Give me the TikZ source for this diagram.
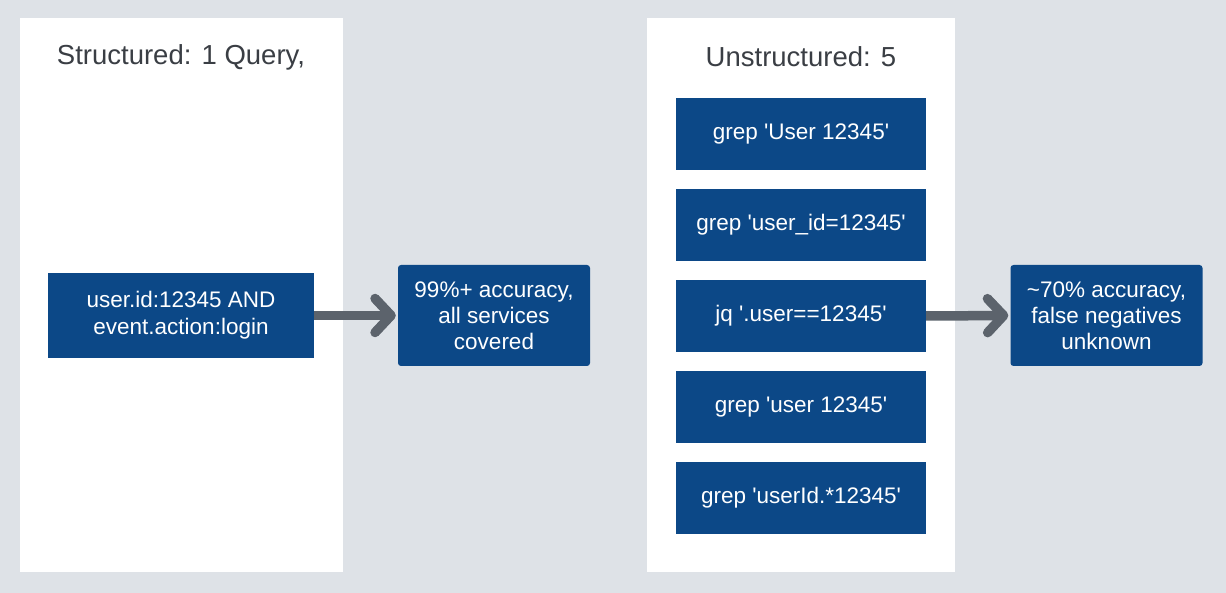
\documentclass[tikz,border=0pt]{standalone}
\usepackage{fontspec}
\setmainfont{Liberation Sans}
\usetikzlibrary{arrows.meta}
\definecolor{bg}{HTML}{DEE2E7}
\definecolor{boxblue}{HTML}{0C4887}
\definecolor{titlegray}{HTML}{3A3E44}
\definecolor{arrowgray}{HTML}{5C636C}
\newcommand{\q}{\textquotesingle}
\tikzset{
  panel/.style={fill=white, draw=none},
  title/.style={font=\fontsize{27.5}{32}\selectfont, text=titlegray, anchor=center},
  qbox/.style={fill=boxblue, draw=none, text=white, font=\fontsize{22.5}{27}\selectfont, align=center, inner sep=0pt, minimum width=250pt, minimum height=72pt},
  sbox/.style={fill=boxblue, draw=none, text=white, font=\fontsize{22.5}{27}\selectfont, align=center, inner sep=0pt, minimum width=266pt, minimum height=85pt},
  rbox/.style={fill=boxblue, draw=none, rounded corners=3pt, text=white, font=\fontsize{22.5}{26}\selectfont, align=center, inner sep=0pt, minimum width=192pt, minimum height=101pt},
  conn/.style={draw=arrowgray, line width=9.5pt, -{Straight Barb[length=16pt, width=34pt, round]}, shorten >=2pt}
}
\begin{document}
\begin{tikzpicture}[x=1pt, y=-1pt]
  \useasboundingbox[fill=bg] (0,0) rectangle (1226,593);
  % panels
  \fill[panel] (20,18) rectangle (343,572);
  \fill[panel] (647,18) rectangle (955,572);
  \node[title] (t1) at (181,57) {Structured: 1 Query,};
  \node[title] (t2) at (801,57) {Unstructured: 5};
  % left
  \node[sbox] (q) at (181,315.5) {user.id:12345 AND\\event.action:login};
  \node[rbox] (r1) at (494,315.5) {99\%+ accuracy,\\all services\\covered};
  % right column
  \node[qbox] (g1) at (801,134) {grep \q User 12345\q};
  \node[qbox] (g2) at (801,225) {grep \q user\_id=12345\q};
  \node[qbox] (g3) at (801,316) {jq \q.user==12345\q};
  \node[qbox] (g4) at (801,407) {grep \q user 12345\q};
  \node[qbox] (g5) at (801,498) {grep \q userId.*12345\q};
  \node[rbox] (r2) at (1106.5,315.5) {\textasciitilde70\% accuracy,\\false negatives\\unknown};
  % connectors
  \draw[conn] (q.east) -- (r1.west);
  \draw[conn] (g3.east) -- (r2.west);
\end{tikzpicture}
\end{document}
